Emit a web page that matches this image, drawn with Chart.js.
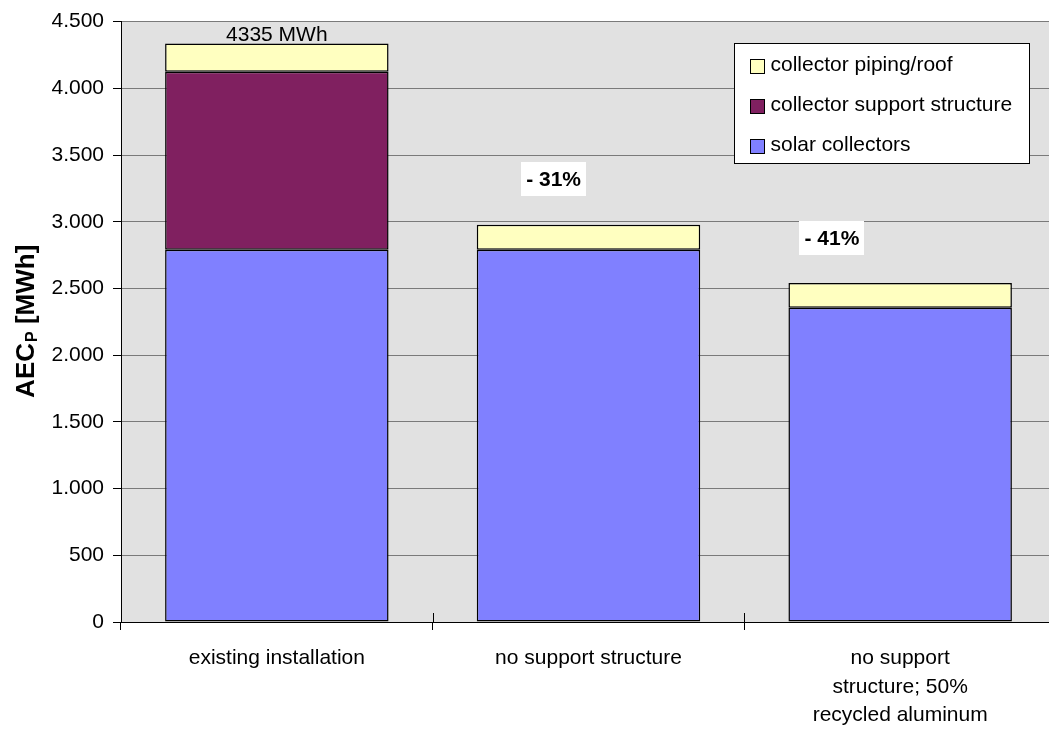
<!DOCTYPE html>
<html>
<head>
<meta charset="utf-8">
<script src="https://cdn.jsdelivr.net/npm/chart.js@4.4.1/dist/chart.umd.min.js"></script>
<style>
  html, body { margin: 0; padding: 0; background: #fff; overflow: hidden; }
  #wrap { width: 1049px; height: 731px; overflow: hidden; position: relative; }
  #c { position: absolute; left: 0; top: 0; }
</style>
</head>
<body>
<div id="wrap"><canvas id="c" width="1070" height="731"></canvas></div>
<script>
// Scenarios compared (x axis)
const categories = [
  ["existing installation"],
  ["no support structure"],
  ["no support", "structure; 50%", "recycled aluminum"]
];

// Accumulated energy consumption per component, MWh
const solarCollectors  = [2790, 2790, 2355];
const supportStructure = [1335, 0, 0];
const pipingRoof       = [210, 188, 185];

const seriesNames = ["solar collectors", "collector support structure", "collector piping/roof"];
const seriesColors = ["#8080FF", "#802060", "#FFFFC0"];

// Value axis
const yTicks = [0, 500, 1000, 1500, 2000, 2500, 3000, 3500, 4000, 4500];

// Where the reduction callouts sit: category offset and value height
const reductionShift = [0, -0.112, -0.219];
const reductionLevel = [null, 3317, 2875];

const FONT = "'Liberation Sans', Arial, sans-serif";

const totals = categories.map((_, i) => solarCollectors[i] + supportStructure[i] + pipingRoof[i]);

function fmtThousands(v) {
  return String(v).replace(/\B(?=(\d{3})+(?!\d))/g, ".");
}

const plotBackground = {
  id: "plotBackground",
  beforeDraw(chart) {
    const { ctx, chartArea: a } = chart;
    ctx.save();
    ctx.fillStyle = "#E1E1E1";
    ctx.fillRect(a.left, a.top, a.right - a.left, a.bottom - a.top);
    ctx.restore();
  }
};

const annotations = {
  id: "annotations",
  afterDraw(chart) {
    const { ctx, chartArea: a, scales: { x, y } } = chart;
    ctx.save();

    // category divider ticks crossing the axis line
    ctx.strokeStyle = "#000";
    ctx.lineWidth = 1;
    for (let i = 1; i < categories.length; i++) {
      const px = Math.round(x.getPixelForValue(i - 0.5)) + 0.5;
      ctx.beginPath();
      ctx.moveTo(px, a.bottom - 9);
      ctx.lineTo(px, a.bottom);
      ctx.stroke();
    }

    // total above the first bar
    const meta = chart.getDatasetMeta(2);
    const bar0 = meta.data[0];
    ctx.fillStyle = "#000";
    ctx.font = "21px " + FONT;
    ctx.textAlign = "center";
    ctx.textBaseline = "bottom";
    ctx.fillText(totals[0] + " MWh", bar0.x, y.getPixelForValue(totals[0]) + 2);

    // reduction callouts on white boxes
    ctx.font = "bold 21px " + FONT;
    ctx.textBaseline = "middle";
    for (let i = 1; i < categories.length; i++) {
      const pct = Math.round((totals[i] / totals[0] - 1) * 100);
      const txt = "- " + Math.abs(pct) + "%";
      const cx = x.getPixelForValue(i + reductionShift[i]);
      const cy = y.getPixelForValue(reductionLevel[i]);
      const w = ctx.measureText(txt).width + 10;
      const h = 34;
      ctx.fillStyle = "#fff";
      ctx.fillRect(Math.round(cx - w / 2), Math.round(cy - h / 2), Math.round(w), h);
      ctx.fillStyle = "#000";
      ctx.fillText(txt, cx, cy + 1);
    }

    // legend (top series listed first)
    const lx = 734.5, ly = 43.5, lw = 295, lh = 120;
    ctx.fillStyle = "#fff";
    ctx.fillRect(lx, ly, lw, lh);
    ctx.strokeStyle = "#000";
    ctx.lineWidth = 1;
    ctx.strokeRect(lx, ly, lw, lh);
    ctx.font = "21px " + FONT;
    ctx.textAlign = "left";
    ctx.textBaseline = "middle";
    const order = [2, 1, 0];
    order.forEach((d, r) => {
      const cy = ly + 22 + r * 40;
      ctx.fillStyle = seriesColors[d];
      ctx.fillRect(lx + 16, Math.round(cy - 7) + 0.5, 14, 14);
      ctx.strokeStyle = "#000";
      ctx.strokeRect(lx + 16, Math.round(cy - 7) + 0.5, 14, 14);
      ctx.fillStyle = "#000";
      ctx.fillText(seriesNames[d], lx + 36, cy);
    });

    // rotated axis title with subscript P
    ctx.translate(25, (a.top + a.bottom) / 2);
    ctx.rotate(-Math.PI / 2);
    ctx.fillStyle = "#000";
    ctx.textBaseline = "alphabetic";
    const big = "bold 26px " + FONT, small = "bold 16px " + FONT;
    ctx.font = big;
    const w1 = ctx.measureText("AEC").width;
    const w3 = ctx.measureText(" [MWh]").width;
    ctx.font = small;
    const w2 = ctx.measureText("P").width;
    let sx = -(w1 + w2 + w3) / 2;
    ctx.font = big;
    ctx.fillText("AEC", sx, 9);
    ctx.font = small;
    ctx.fillText("P", sx + w1 + 1, 12);
    ctx.font = big;
    ctx.fillText(" [MWh]", sx + w1 + w2 + 1, 9);

    ctx.restore();
  }
};

new Chart(document.getElementById("c"), {
  type: "bar",
  data: {
    labels: categories,
    datasets: [
      { label: seriesNames[0], data: solarCollectors,  backgroundColor: seriesColors[0] },
      { label: seriesNames[1], data: supportStructure, backgroundColor: seriesColors[1] },
      { label: seriesNames[2], data: pipingRoof,       backgroundColor: seriesColors[2] }
    ].map(d => Object.assign(d, {
      borderColor: "#000",
      borderWidth: 1.5,
      borderSkipped: false,
      categoryPercentage: 1,
      barPercentage: 0.717
    }))
  },
  options: {
    responsive: false,
    animation: false,
    devicePixelRatio: 1,
    layout: { padding: { left: 0, right: 14, top: 20, bottom: 0 } },
    plugins: { legend: { display: false }, tooltip: { enabled: false } },
    scales: {
      x: {
        stacked: true,
        offset: true,
        grid: { offset: true, drawOnChartArea: false, drawTicks: true, tickLength: 8, color: "#000" },
        border: { color: "#000", width: 1 },
        ticks: {
          color: "#000",
          font: { family: FONT, size: 21, lineHeight: 1.357 },
          padding: 14,
          maxRotation: 0,
          autoSkip: false
        },
        afterFit(s) { s.height = 109; }
      },
      y: {
        stacked: true,
        min: 0,
        max: 4500,
        afterBuildTicks(s) { s.ticks = yTicks.map(v => ({ value: v })); },
        grid: { color: "#7A7A7A", tickColor: "#000", tickLength: 8, lineWidth: 1 },
        border: { color: "#000", width: 1 },
        ticks: {
          color: "#000",
          font: { family: FONT, size: 21 },
          padding: 9,
          callback: v => fmtThousands(v)
        },
        afterFit(s) { s.width = 121; }
      }
    }
  },
  plugins: [plotBackground, annotations]
});
</script>
</body>
</html>
